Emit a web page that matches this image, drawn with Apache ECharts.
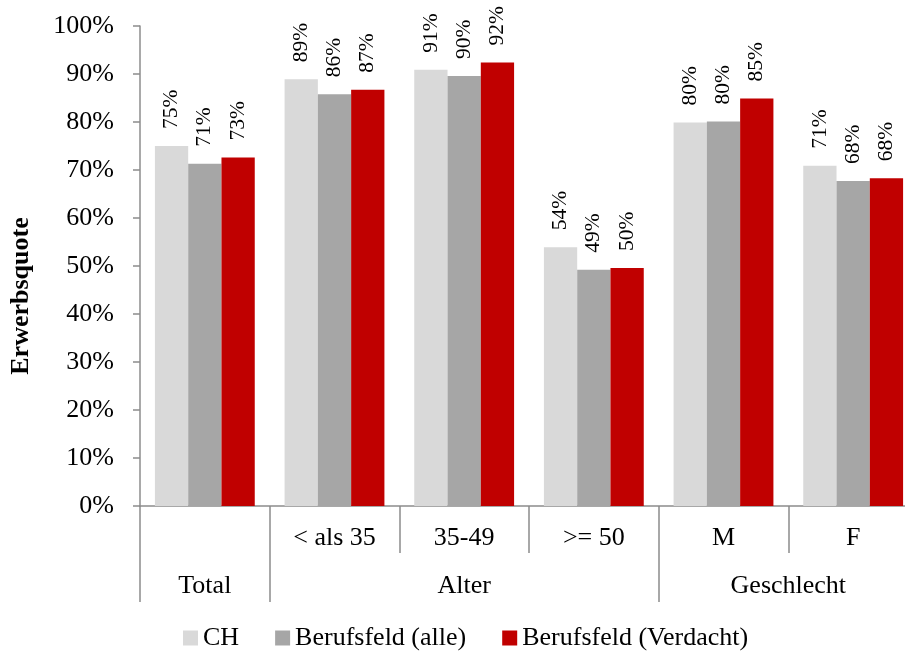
<!DOCTYPE html>
<html>
<head>
<meta charset="utf-8">
<script src="https://cdn.jsdelivr.net/npm/echarts@6/dist/echarts.min.js"></script>
<style>html,body{margin:0;padding:0;background:#fff;overflow:hidden;}#chart{width:918px;height:651px;}</style>
</head>
<body>
<div id="chart"></div>
<script>
const subCategories = ['', '< als 35', '35-49', '>= 50', 'M', 'F'];
const groupLabels = ['Total', 'Alter', 'Geschlecht'];
const groupSizes = [1, 3, 2];
const seriesNames = ['CH', 'Berufsfeld (alle)', 'Berufsfeld (Verdacht)'];
const chValues = [75.0, 88.9, 90.9, 53.9, 79.9, 70.9];
const alleValues = [71.3, 85.8, 89.6, 49.2, 80.1, 67.7];
const verdachtValues = [72.6, 86.7, 92.4, 49.6, 84.9, 68.3];
const yTicks = [0, 10, 20, 30, 40, 50, 60, 70, 80, 90, 100];

const colors = ['#d9d9d9', '#a6a6a6', '#c00000'];
const font = "'Times New Roman', 'Liberation Serif', serif";
const axisGrey = '#8c8c8c';

const bounds = [0];
groupSizes.forEach(s => bounds.push(bounds[bounds.length - 1] + s));
const centers = groupSizes.map((s, i) => bounds[i] + s / 2);

const chart = echarts.init(document.getElementById('chart'));
const labelOpt = {
  show: true, position: 'top', rotate: 90, align: 'left', verticalAlign: 'middle',
  distance: 17, fontFamily: font, fontSize: 21.5, color: '#000',
  formatter: p => Math.round(p.value) + '%'
};
const allData = [chValues, alleValues, verdachtValues];
chart.setOption({
  animation: false,
  textStyle: { fontFamily: font },
  grid: { left: 140, top: 26, right: 0, bottom: 145, containLabel: false },
  legend: {
    data: seriesNames, left: 178, top: 620, itemWidth: 15, itemHeight: 15, itemGap: 36,
    icon: 'rect', textStyle: { fontFamily: font, fontSize: 26, color: '#000' }
  },
  xAxis: [
    {
      type: 'category', data: subCategories, position: 'bottom',
      axisLine: { lineStyle: { color: axisGrey, width: 1.5 } },
      axisTick: { show: true, interval: 0, length: 47, lineStyle: { color: axisGrey, width: 1.5 } },
      axisLabel: { interval: 0, margin: 19, fontFamily: font, fontSize: 26, color: '#000' }
    },
    {
      type: 'value', min: 0, max: subCategories.length, position: 'bottom',
      splitLine: { show: false },
      axisLine: { show: false },
      axisTick: { show: true, customValues: bounds, length: 96, lineStyle: { color: axisGrey, width: 1.5 } },
      axisLabel: {
        customValues: centers, margin: 67, fontFamily: font, fontSize: 26, color: '#000',
        formatter: v => { const i = centers.indexOf(v); return i >= 0 ? groupLabels[i] : ''; }
      }
    }
  ],
  yAxis: {
    type: 'value', min: yTicks[0], max: yTicks[yTicks.length - 1], interval: 10,
    name: 'Erwerbsquote', nameLocation: 'middle', nameGap: 106, nameRotate: 90,
    nameTextStyle: { fontFamily: font, fontSize: 26, fontWeight: 'bold', color: '#000', padding: [0, 60, 0, 0] },
    splitLine: { show: false },
    axisLine: { show: true, lineStyle: { color: axisGrey, width: 1.5 } },
    axisTick: { show: true, length: 7, lineStyle: { color: axisGrey, width: 1.5 } },
    axisLabel: { margin: 26, fontFamily: font, fontSize: 26, color: '#000', formatter: '{value}%' }
  },
  series: seriesNames.map((n, i) => ({
    name: n, type: 'bar', xAxisIndex: 0, data: allData[i],
    barGap: '0%', barCategoryGap: '23%',
    itemStyle: { color: colors[i] },
    label: labelOpt
  }))
});
</script>
</body>
</html>
